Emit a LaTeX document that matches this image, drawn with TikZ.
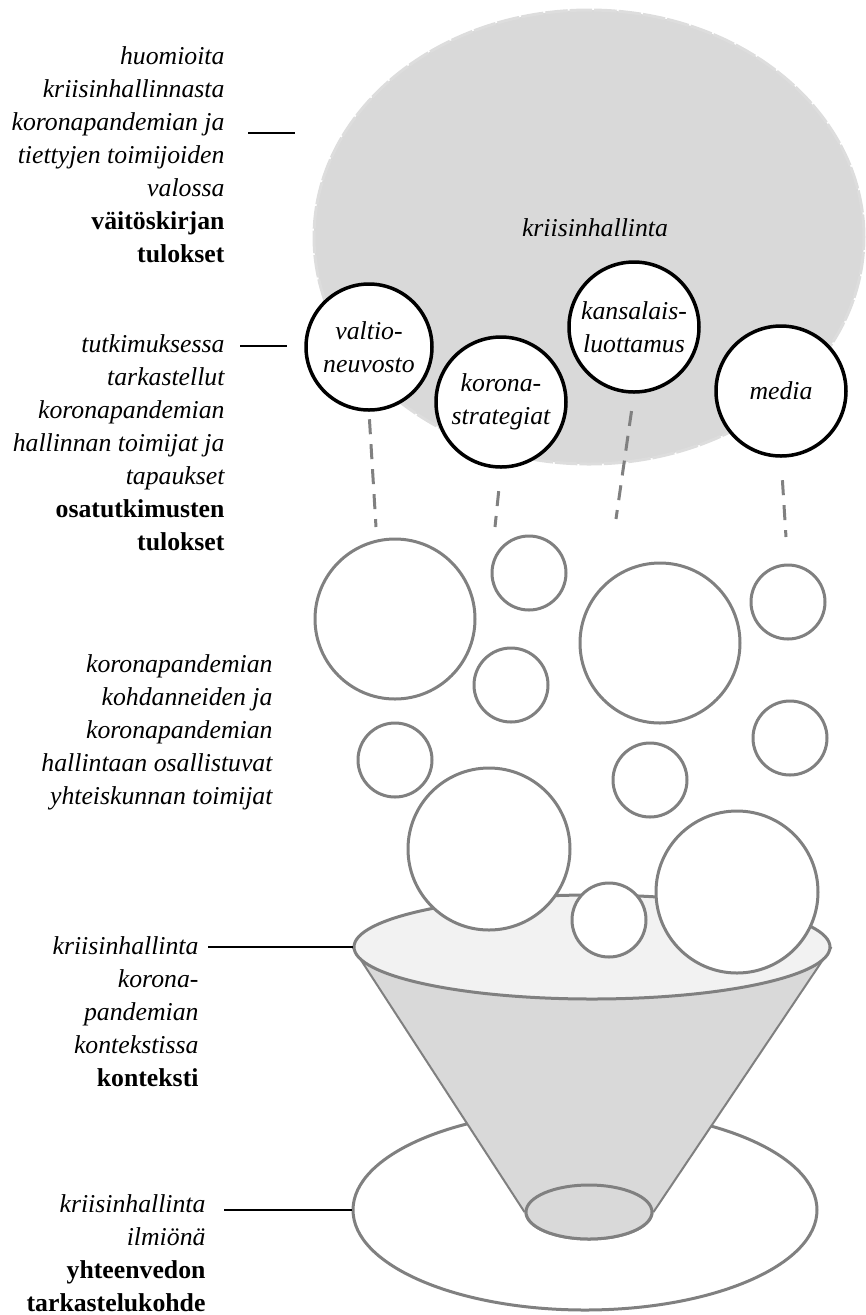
\documentclass[tikz,border=0pt]{standalone}
\usepackage{fontspec}
\setmainfont{Liberation Serif}
\usetikzlibrary{shapes.geometric}
\newcommand{\bt}[1]{\textnormal{\bfseries #1}}

\begin{document}
\begin{tikzpicture}[x=0.4pt,y=-0.4pt,
  txt/.style={font=\fontsize{10.3}{13.2}\selectfont\itshape, align=right, inner sep=0pt, anchor=north east},
  actor/.style={circle, draw=black, line width=1.4pt, fill=white, minimum size=#1*0.4pt, inner sep=0pt,
    font=\fontsize{10.3}{13.2}\selectfont\itshape, align=center},
  bub/.style={circle, draw=gray, line width=1.2pt, fill=white, minimum size=#1*0.4pt, inner sep=0pt},
  disc/.style={ellipse, draw=gray, line width=1.2pt, inner sep=0pt},
  link/.style={draw=gray, line width=1.2pt, dash pattern=on 6pt off 4pt},
  lead/.style={draw=black, line width=0.6pt}]
  \useasboundingbox (0,0) rectangle (866,1315);

  % kriisinhallinta
  \node[ellipse, fill=gray!30, draw=gray!27, line width=1.2pt, dash pattern=on 9pt off 0.8pt,
    minimum width=550*0.4pt, minimum height=454*0.4pt] (blob) at (589,237) {};
  \node[font=\fontsize{10.3}{13.2}\selectfont\itshape] (blobtxt) at (595,228) {kriisinhallinta};

  % toimijat
  \node[actor=126] (vn) at (369,347) {valtio-\\neuvosto};
  \node[actor=130] (ks) at (501,402) {korona-\\strategiat};
  \node[actor=130] (kl) at (634,327) {kansalais-\\luottamus};
  \node[actor=130] (me) at (781,391) {media};

  \coordinate (vn-e) at (376,527);
  \coordinate (ks-e) at (495,527);
  \coordinate (kl-e) at (616,519);
  \coordinate (me-e) at (786,537);
  \draw[link, shorten <=3pt] (vn.south) -- (vn-e);
  \draw[link, shorten <=9pt] (ks.south) -- (ks-e);
  \draw[link, shorten <=7pt] (kl.south) -- (kl-e);
  \draw[link, shorten <=9pt] (me.south) -- (me-e);

  % suppilo
  \node[disc, fill=white, minimum width=464*0.4pt, minimum height=200*0.4pt] (base) at (585,1210) {};
  \node[disc, fill=gray!30, minimum width=126*0.4pt, minimum height=54*0.4pt] (tip) at (589,1212) {};
  \node[disc, draw=none, minimum width=476*0.4pt, minimum height=104*0.4pt] (top) at (592,947) {};
  \fill[gray!30] (top.west) -- (tip.west) -- (tip.east) -- (top.east) -- cycle;
  \draw[gray, line width=0.8pt] (top.west) -- (tip.west) (tip.east) -- (top.east);
  \node[disc, fill=gray!30, minimum width=126*0.4pt, minimum height=54*0.4pt] at (tip) {};
  \node[disc, fill=gray!10, minimum width=476*0.4pt, minimum height=104*0.4pt] at (top) {};

  % yhteiskunnan toimijat
  \foreach \n/\x/\y/\d in {1/395/619/160, 2/529/573/74, 3/660/643/160, 4/788/602/74,
      5/511/685/74, 6/395/760/74, 7/790/738/74, 8/650/780/74,
      9/489/849/162, 10/609/920/74, 11/737/892/162}
    \node[bub=\d] (g\n) at (\x,\y) {};

  % tekstit
  \node[txt] (res) at (225,46) {huomioita\\kriisinhallinnasta\\koronapandemian ja\\tiettyjen toimijoiden\\valossa\\\bt{väitöskirjan}\\\bt{tulokset}};
  \node[txt] (sub) at (225,334) {tutkimuksessa\\tarkastellut\\koronapandemian\\hallinnan toimijat ja\\tapaukset\\\bt{osatutkimusten}\\\bt{tulokset}};
  \node[txt] (act) at (273,654) {koronapandemian\\kohdanneiden ja\\koronapandemian\\hallintaan osallistuvat\\yhteiskunnan toimijat};
  \node[txt] (ctx) at (199,936) {kriisinhallinta\\korona-\\pandemian\\kontekstissa\\\bt{konteksti}};
  \node[txt] (phe) at (206,1194) {kriisinhallinta\\ilmiönä\\\bt{yhteenvedon}\\\bt{tarkastelukohde}};

  \coordinate (res-a) at (248,133);
  \coordinate (res-b) at (295,133);
  \coordinate (sub-a) at (240,346);
  \coordinate (sub-b) at (287,346);
  \coordinate (ctx-a) at (208,947);
  \coordinate (phe-a) at (224,1210);
  \draw[lead] (res-a) -- (res-b);
  \draw[lead] (sub-a) -- (sub-b);
  \draw[lead] (ctx-a) -- (top.west);
  \draw[lead] (phe-a) -- (base.west);
\end{tikzpicture}
\end{document}
